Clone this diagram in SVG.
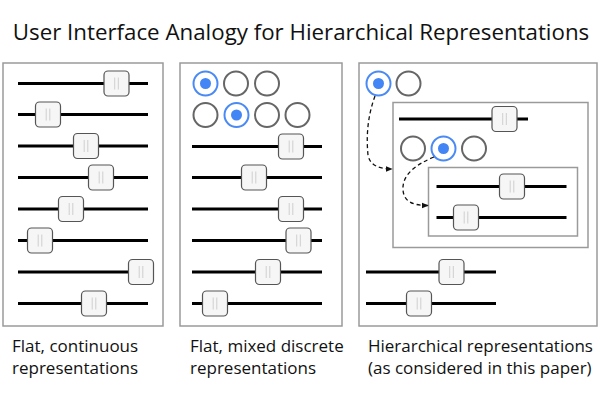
<svg xmlns="http://www.w3.org/2000/svg" xmlns:xlink="http://www.w3.org/1999/xlink" width="600" height="400" viewBox="0 0 600 400">
<style>
.title{font-family:"Open Sans","Noto Sans","DejaVu Sans",sans-serif;font-size:22.3px;fill:#111;}
.cap{font-family:"Open Sans","Noto Sans","DejaVu Sans",sans-serif;font-size:17px;fill:#111;}
.frame{fill:none;stroke:#9a9a9a;stroke-width:1.5;}
.track{stroke:#000;stroke-width:3;}
.knob{fill:#f6f6f6;stroke:#555;stroke-width:1.2;}
.grip{stroke:#cfcfcf;stroke-width:1;}
.radio{fill:#fff;stroke:#666;stroke-width:2;}
.radio-on{fill:#fff;stroke:#4a8af4;stroke-width:2;}
.dot{fill:#4285f4;}
.link{fill:none;stroke:#111;stroke-width:1.3;stroke-dasharray:4 3;}
</style>
<defs>
<g id="handle">
<rect class="knob" x="-12.5" y="-12.5" width="25" height="25" rx="4"/>
<line class="grip" x1="-1.8" y1="-6" x2="-1.8" y2="6"/>
<line class="grip" x1="1.8" y1="-6" x2="1.8" y2="6"/>
</g>
<g id="off"><circle class="radio" r="12"/></g>
<g id="on"><circle class="radio-on" r="12"/><circle class="dot" r="5.5"/></g>
<marker id="arrow" viewBox="0 0 10 10" refX="9" refY="5" markerWidth="7" markerHeight="7" orient="auto" markerUnits="userSpaceOnUse">
<path d="M0,1 L10,5 L0,9 Z" fill="#111"/>
</marker>
</defs>
<rect width="600" height="400" fill="#fff"/>
<text class="title" x="301" y="40" text-anchor="middle">User Interface Analogy for Hierarchical Representations</text>

<g id="panel-flat-continuous">
<rect class="frame" x="3" y="63" width="160" height="263"/>
<g id="s1-1"><line class="track" x1="18" y1="83.5" x2="148" y2="83.5"/><use xlink:href="#handle" x="116.5" y="83.5"/></g>
<g id="s1-2"><line class="track" x1="18" y1="114.5" x2="148" y2="114.5"/><use xlink:href="#handle" x="48" y="114.5"/></g>
<g id="s1-3"><line class="track" x1="18" y1="146" x2="148" y2="146"/><use xlink:href="#handle" x="86" y="146"/></g>
<g id="s1-4"><line class="track" x1="18" y1="177.5" x2="148" y2="177.5"/><use xlink:href="#handle" x="101" y="177.5"/></g>
<g id="s1-5"><line class="track" x1="18" y1="209" x2="148" y2="209"/><use xlink:href="#handle" x="71" y="209"/></g>
<g id="s1-6"><line class="track" x1="18" y1="240.5" x2="148" y2="240.5"/><use xlink:href="#handle" x="40" y="240.5"/></g>
<g id="s1-7"><line class="track" x1="18" y1="272" x2="148" y2="272"/><use xlink:href="#handle" x="141" y="272"/></g>
<g id="s1-8"><line class="track" x1="18" y1="303.5" x2="148" y2="303.5"/><use xlink:href="#handle" x="94" y="303.5"/></g>
</g>

<g id="panel-flat-mixed">
<rect class="frame" x="180" y="63" width="162" height="263"/>
<g id="r2-1"><use xlink:href="#on" x="205.5" y="83.5"/><use xlink:href="#off" x="236" y="83.5"/><use xlink:href="#off" x="267" y="83.5"/></g>
<g id="r2-2"><use xlink:href="#off" x="205.5" y="115"/><use xlink:href="#on" x="236.5" y="115"/><use xlink:href="#off" x="267" y="115"/><use xlink:href="#off" x="297.5" y="115"/></g>
<g id="s2-1"><line class="track" x1="192" y1="146.5" x2="322" y2="146.5"/><use xlink:href="#handle" x="291" y="146.5"/></g>
<g id="s2-2"><line class="track" x1="192" y1="177.5" x2="322" y2="177.5"/><use xlink:href="#handle" x="254" y="177.5"/></g>
<g id="s2-3"><line class="track" x1="192" y1="209" x2="322" y2="209"/><use xlink:href="#handle" x="291" y="209"/></g>
<g id="s2-4"><line class="track" x1="192" y1="240.5" x2="322" y2="240.5"/><use xlink:href="#handle" x="298.5" y="240.5"/></g>
<g id="s2-5"><line class="track" x1="192" y1="272" x2="322" y2="272"/><use xlink:href="#handle" x="268" y="272"/></g>
<g id="s2-6"><line class="track" x1="192" y1="303.5" x2="322" y2="303.5"/><use xlink:href="#handle" x="215" y="303.5"/></g>
</g>

<g id="panel-hierarchical">
<rect class="frame" x="359" y="63" width="238" height="263"/>
<g id="r3-top"><use xlink:href="#on" x="378.5" y="83.5"/><use xlink:href="#off" x="408.5" y="83.5"/></g>
<g id="box-1">
<rect class="frame" x="393" y="102.5" width="195" height="145"/>
<g id="s3-a"><line class="track" x1="399" y1="119" x2="528" y2="119"/><use xlink:href="#handle" x="504.5" y="119"/></g>
<g id="r3-mid"><use xlink:href="#off" x="413" y="148.5"/><use xlink:href="#on" x="443.5" y="148.5"/><use xlink:href="#off" x="474" y="148.5"/></g>
<g id="box-2">
<rect class="frame" x="428.5" y="167.5" width="149" height="68.5"/>
<g id="s3-b"><line class="track" x1="436.5" y1="186.5" x2="566.5" y2="186.5"/><use xlink:href="#handle" x="512" y="186.5"/></g>
<g id="s3-c"><line class="track" x1="436.5" y1="217.5" x2="566.5" y2="217.5"/><use xlink:href="#handle" x="466" y="217.5"/></g>
</g>
</g>
<g id="s3-d"><line class="track" x1="366" y1="272" x2="496" y2="272"/><use xlink:href="#handle" x="451.5" y="272"/></g>
<g id="s3-e"><line class="track" x1="366" y1="303.5" x2="496" y2="303.5"/><use xlink:href="#handle" x="419" y="303.5"/></g>
</g>

<g id="connectors">
<path class="link" d="M375,96 C368,115 366,135 368,155 C370,166 380,169 392,169" marker-end="url(#arrow)"/>
<path class="link" d="M434,157 C415,165 402,175 403,190 C404,203 415,205.5 428,205.5" marker-end="url(#arrow)"/>
</g>

<g id="captions">
<text class="cap" x="12" y="352">Flat, continuous</text>
<text class="cap" x="12" y="373.5">representations</text>
<text class="cap" x="190" y="352">Flat, mixed discrete</text>
<text class="cap" x="190" y="373.5">representations</text>
<text class="cap" x="368" y="352">Hierarchical representations</text>
<text class="cap" x="368" y="373.5">(as considered in this paper)</text>
</g>
</svg>
